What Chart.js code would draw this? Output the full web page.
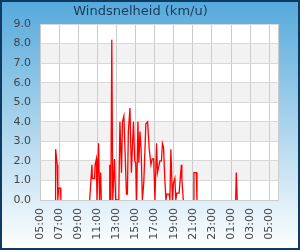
<!DOCTYPE html>
<html>
<head>
<meta charset="utf-8">
<script src="https://cdn.jsdelivr.net/npm/chart.js@4"></script>
<style>
  html, body { margin: 0; padding: 0; }
  #wrap {
    position: relative;
    width: 300px;
    height: 250px;
    background: linear-gradient(#55a9db, #ffffff);
    box-shadow: inset 0 0 0 2px #0e3b63;
  }
  #wrap canvas { position: absolute; left: 0; top: 0; }
</style>
</head>
<body>
<div id="wrap"><canvas id="windChart" width="300" height="250"></canvas></div>
<script>
// ======================= DATA =======================
// tijdstip (HH:MM) en windsnelheid in km/u; null = geen meting
const times = [
  '06:36', '06:38', '06:48', '06:52', '06:57', '07:09', '07:11', '08:00',
  '10:12', '10:26', '10:29', '10:43', '10:46', '10:54', '10:58', '11:08', '11:14', '11:21', '11:25', '11:50',
  '12:14', '12:18', '12:25', '12:31', '12:37', '12:48', '12:55', '13:15', '13:22', '13:32', '13:38', '13:47',
  '14:03', '14:09', '14:15', '14:25', '14:34', '14:47', '14:55', '15:01', '15:07', '15:15', '15:21', '15:28',
  '15:35', '15:43', '15:52', '16:05', '16:16', '16:26', '16:37', '16:45', '16:54', '17:02', '17:12', '17:18',
  '17:33', '17:43', '17:49', '17:56', '18:04', '18:11', '18:17', '18:31', '18:36', '18:42', '18:52', '18:58',
  '19:07', '19:13', '19:19', '19:34', '19:43', '19:48', '19:51', '20:00', '20:30',
  '21:05', '21:07', '21:22', '21:26', '23:00',
  '01:29', '01:33', '01:39'
];
const speeds = [
  0, 2.6, 1.8, 0, 0.6, 0.6, 0, null,
  0, 1.8, 1.1, 1.1, 1.8, 2.1, 0, 2.9, 0, 1.4, 0, null,
  0, 1.8, 0, 8.2, 0, 2.1, 0, 0, 4.0, 1.4, 4.0, 4.3,
  0.3, 0.3, 3.5, 4.7, 1.4, 4.0, 2.0, 1.9, 0, 4.0, 1.9, 3.5,
  2.6, 0, 0.9, 3.9, 4.0, 2.6, 1.8, 2.1, 2.1, 0, 2.9, 1.4,
  2.0, 2.0, 2.9, 2.7, 1.1, 0, 0.3, 0.3, 0, 2.6, 0, 0.85,
  1.1, 0, 0.35, 0.35, 1.3, 1.8, 1.1, 0, null,
  0, 1.4, 1.4, 0, null,
  0, 1.4, 0
];

// as-indeling
const xTickHours = [5, 7, 9, 11, 13, 15, 17, 19, 21, 23, 25, 27, 29, 30];
const xTickLabels = ['05:00', '07:00', '09:00', '11:00', '13:00', '15:00', '17:00',
  '19:00', '21:00', '23:00', '01:00', '03:00', '05:00', ''];
const yBands = [[1, 2], [3, 4], [5, 6], [7, 8]];

// helper: "HH:MM" -> uren sinds middernacht, na middernacht +24
function toHours(str) {
  const [h, m] = str.split(':').map(Number);
  const hours = h + m / 60;
  return h < 5 ? hours + 24 : hours;
}

const points = times.map((t, i) => ({ x: toHours(t), y: speeds[i] }));

// witte achtergrond + grijze banden in het plotgebied
const bandsPlugin = {
  id: 'bands',
  beforeDraw(chart) {
    const { ctx, chartArea: a, scales } = chart;
    ctx.save();
    ctx.fillStyle = '#ffffff';
    ctx.fillRect(a.left, a.top, a.right - a.left, a.bottom - a.top);
    ctx.fillStyle = '#f2f2f2';
    yBands.forEach(([lo, hi]) => {
      const y1 = scales.y.getPixelForValue(hi);
      const y2 = scales.y.getPixelForValue(lo);
      ctx.fillRect(a.left, y1, a.right - a.left, y2 - y1);
    });
    ctx.restore();
  }
};

Chart.defaults.font.family = '"DejaVu Sans", sans-serif';

new Chart(document.getElementById('windChart'), {
  type: 'line',
  data: {
    datasets: [{
      data: points,
      borderColor: '#ff0000',
      borderWidth: 1.3,
      pointRadius: 0,
      tension: 0,
      spanGaps: false,
    }]
  },
  options: {
    responsive: false,
    animation: false,
    layout: { padding: { left: 0, right: 19, top: 0, bottom: 0 } },
    plugins: {
      legend: { display: false },
      tooltip: { enabled: false },
      title: {
        display: true,
        text: 'Windsnelheid (km/u)',
        color: '#1b3a5a',
        font: { size: 13, weight: 'normal', lineHeight: 1.077 },
        padding: { top: 5, bottom: 5 }
      }
    },
    scales: {
      x: {
        type: 'linear',
        min: 5,
        max: 30,
        afterBuildTicks: (scale) => {
          scale.ticks = xTickHours.map(v => ({ value: v }));
        },
        afterFit: (scale) => { scale.height = 50; },
        ticks: {
          autoSkip: false,
          minRotation: 90,
          maxRotation: 90,
          padding: 8,
          color: '#444444',
          font: { size: 11 },
          callback: (value, index) => xTickLabels[index]
        },
        grid: { color: '#cccccc', drawTicks: false },
        border: { color: '#cccccc' }
      },
      y: {
        min: 0,
        max: 9,
        afterFit: (scale) => { scale.width = 40; },
        ticks: {
          stepSize: 1,
          padding: 9,
          color: '#444444',
          font: { size: 11 },
          callback: (value) => value.toFixed(1)
        },
        grid: { color: '#d8d8d8', drawTicks: false },
        border: { color: '#cccccc' }
      }
    }
  },
  plugins: [bandsPlugin]
});
</script>
</body>
</html>
